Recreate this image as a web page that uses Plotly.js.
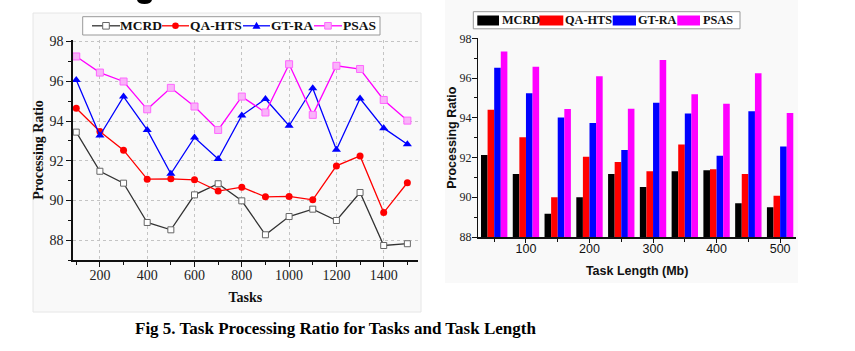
<!DOCTYPE html>
<html>
<head>
<meta charset="utf-8">
<script src="https://cdn.plot.ly/plotly-3.0.1.min.js"></script>
<style>
  html, body { margin: 0; padding: 0; background: #ffffff; }
  #chart { width: 855px; height: 351px; }
</style>
</head>
<body>
<div id="chart"></div>
<script>
// ---------- data ----------
const seriesNames = ["MCRD", "QA-HTS", "GT-RA", "PSAS"];

// Left chart: processing ratio vs number of tasks
const tasks = [100, 200, 300, 400, 500, 600, 700, 800, 900, 1000, 1100, 1200, 1300, 1400, 1500];
const mcrdTasks = [93.44, 91.47, 90.87, 88.89, 88.52, 90.28, 90.84, 89.98, 88.27, 89.19, 89.56, 88.99, 90.40, 87.73, 87.82];
const qaTasks   = [94.64, 93.47, 92.53, 91.07, 91.09, 91.04, 90.47, 90.67, 90.18, 90.20, 90.03, 91.74, 92.24, 89.39, 90.89];
const gtTasks   = [96.07, 93.27, 95.23, 93.55, 91.34, 93.17, 92.09, 94.28, 95.11, 93.76, 95.65, 92.55, 95.13, 93.64, 92.83];
const psasTasks = [97.25, 96.44, 95.99, 94.59, 95.67, 94.73, 93.55, 95.23, 94.43, 96.86, 94.31, 96.78, 96.62, 95.06, 94.02];

// Right chart: processing ratio vs task length (Mb)
const lengths  = [50, 100, 150, 200, 250, 300, 350, 400, 450, 500];
const mcrdLen  = [92.13, 91.17, 89.17, 90.00, 91.17, 90.52, 91.31, 91.36, 89.70, 89.50];
const qaLen    = [94.40, 93.02, 90.00, 92.04, 91.78, 91.31, 92.65, 91.41, 91.17, 90.08];
const gtLen    = [96.52, 95.23, 94.02, 93.74, 92.38, 94.76, 94.21, 92.09, 94.33, 92.55];
const psasLen  = [97.33, 96.57, 94.44, 96.09, 94.46, 96.91, 95.18, 94.71, 96.24, 94.24];

const captionText = "Fig 5. Task Processing Ratio for Tasks and Task Length";

// ---------- helpers (page pixels -> paper fractions) ----------
const W = 855, H = 351;
const px = v => v / W;
const py = v => 1 - v / H;

const SERIF = "Liberation Serif, Times New Roman, serif";
const SANS = "Liberation Sans, Arial, sans-serif";

// ---------- traces ----------
const lineStyles = [
  { color: "#333333", marker: { symbol: "square", size: 6, color: "#ffffff", line: { color: "#666666", width: 1 } } },
  { color: "#ff0000", marker: { symbol: "circle", size: 7, color: "#ff0000", line: { width: 0 } } },
  { color: "#0000ff", marker: { symbol: "triangle-up", size: 8, color: "#0000ff", line: { width: 0 } } },
  { color: "#ff00ff", marker: { symbol: "square", size: 7, color: "#f9b3f9", line: { color: "#ff66ff", width: 1 } } }
];
const taskSeries = [mcrdTasks, qaTasks, gtTasks, psasTasks];
const lenSeries = [mcrdLen, qaLen, gtLen, psasLen];
const barColors = ["#000000", "#ff0000", "#0000ff", "#ff00ff"];

const traces = [];
taskSeries.forEach((ys, i) => {
  traces.push({
    type: "scatter", mode: "lines+markers", name: seriesNames[i],
    x: tasks, y: ys, xaxis: "x", yaxis: "y",
    line: { color: lineStyles[i].color, width: 1.3 },
    marker: lineStyles[i].marker,
    showlegend: false, cliponaxis: false
  });
});
lenSeries.forEach((ys, i) => {
  traces.push({
    type: "bar", name: seriesNames[i],
    x: lengths, y: ys, base: 0, xaxis: "x2", yaxis: "y2",
    marker: { color: barColors[i], line: { width: 0 } },
    showlegend: false
  });
});

// ---------- shapes & annotations ----------
const shapes = [];
const annotations = [];

// figure backgrounds
shapes.push({ type: "rect", xref: "paper", yref: "paper", layer: "below",
  x0: px(33), x1: px(421), y0: py(312), y1: py(13),
  fillcolor: "#f9f9f9", line: { color: "#e6e6e6", width: 1 } });
shapes.push({ type: "rect", xref: "paper", yref: "paper", layer: "below",
  x0: px(445), x1: px(798), y0: py(283), y1: py(0),
  fillcolor: "#f9f9f9", line: { width: 0 } });

// remnant of a cropped heading glyph at the very top edge
shapes.push({ type: "path", xref: "paper", yref: "paper",
  path: `M ${px(137)} ${py(0)} Q ${px(138)} ${py(4)} ${px(144.5)} ${py(4)} Q ${px(151)} ${py(4)} ${px(152)} ${py(0)} Z`,
  fillcolor: "#000000", line: { width: 0 } });

// left legend
const LY = 25.8;
shapes.push({ type: "rect", xref: "paper", yref: "paper",
  x0: px(82.7), x1: px(380), y0: py(35), y1: py(16.7),
  fillcolor: "#ffffff", line: { color: "#999999", width: 1 } });
const leftLeg = [
  { l0: 92, l1: 120, m: 106, t: 120 },
  { l0: 162, l1: 189, m: 175.5, t: 190 },
  { l0: 243, l1: 270, m: 256.5, t: 271 },
  { l0: 314, l1: 342, m: 328, t: 343 }
];
leftLeg.forEach((e, i) => {
  shapes.push({ type: "line", xref: "paper", yref: "paper",
    x0: px(e.l0), x1: px(e.l1), y0: py(LY), y1: py(LY),
    line: { color: lineStyles[i].color, width: 1.3 } });
  const r = 3.3;
  if (i === 0) {
    shapes.push({ type: "rect", xref: "paper", yref: "paper",
      x0: px(e.m - r), x1: px(e.m + r), y0: py(LY + r), y1: py(LY - r),
      fillcolor: "#ffffff", line: { color: "#666666", width: 1 } });
  } else if (i === 1) {
    shapes.push({ type: "circle", xref: "paper", yref: "paper",
      x0: px(e.m - r), x1: px(e.m + r), y0: py(LY + r), y1: py(LY - r),
      fillcolor: "#ff0000", line: { width: 0 } });
  } else if (i === 2) {
    shapes.push({ type: "path", xref: "paper", yref: "paper",
      path: `M ${px(e.m - 4)} ${py(LY + 3)} L ${px(e.m + 4)} ${py(LY + 3)} L ${px(e.m)} ${py(LY - 4)} Z`,
      fillcolor: "#0000ff", line: { width: 0 } });
  } else {
    shapes.push({ type: "rect", xref: "paper", yref: "paper",
      x0: px(e.m - r), x1: px(e.m + r), y0: py(LY + r), y1: py(LY - r),
      fillcolor: "#f9b3f9", line: { color: "#ff66ff", width: 1 } });
  }
  annotations.push({ xref: "paper", yref: "paper", x: px(e.t), y: py(LY),
    xanchor: "left", yanchor: "middle", showarrow: false,
    borderpad: 0, borderwidth: 0,
    text: "<b>" + seriesNames[i] + "</b>",
    font: { family: SERIF, size: 13.5, color: "#111111" } });
});

// right legend
const RY = 20.5;
shapes.push({ type: "rect", xref: "paper", yref: "paper",
  x0: px(473.3), x1: px(740), y0: py(28.8), y1: py(11.7),
  fillcolor: "#ffffff", line: { color: "#999999", width: 1 } });
const rightLeg = [
  { r0: 477.3, r1: 499, t: 501.5 },
  { r0: 539.3, r1: 563.3, t: 565 },
  { r0: 612.7, r1: 636, t: 637.5 },
  { r0: 677.3, r1: 700, t: 703 }
];
rightLeg.forEach((e, i) => {
  shapes.push({ type: "rect", xref: "paper", yref: "paper",
    x0: px(e.r0), x1: px(e.r1), y0: py(RY + 5), y1: py(RY - 5),
    fillcolor: barColors[i], line: { width: 0 } });
  annotations.push({ xref: "paper", yref: "paper", x: px(e.t), y: py(RY),
    xanchor: "left", yanchor: "middle", showarrow: false,
    borderpad: 0, borderwidth: 0,
    text: "<b>" + seriesNames[i] + "</b>",
    font: { family: SERIF, size: 12.3, color: "#111111" } });
});

// caption
annotations.push({ xref: "paper", yref: "paper", x: px(335), y: py(328),
  xanchor: "center", yanchor: "middle", showarrow: false,
  borderpad: 0, borderwidth: 0,
  text: "<b>" + captionText + "</b>",
  font: { family: SERIF, size: 17, color: "#000000" } });

// ---------- layout ----------
const layout = {
  width: W, height: H,
  margin: { l: 0, r: 0, t: 0, b: 0, pad: 0 },
  paper_bgcolor: "#ffffff",
  plot_bgcolor: "rgba(0,0,0,0)",
  showlegend: false,
  barmode: "group",
  bargap: 0.17,
  bargroupgap: 0,
  xaxis: {
    domain: [px(72.7), px(418)],
    range: [85, 1545],
    tick0: 0, dtick: 200,
    ticks: "outside", ticklen: 5, tickwidth: 1, tickcolor: "#111",
    minor: { dtick: 100, ticks: "outside", ticklen: 3, tickcolor: "#111", showgrid: false },
    showline: true, linecolor: "#111", linewidth: 1.5,
    showgrid: true, gridcolor: "#c4c4c4", griddash: "dot", gridwidth: 1,
    zeroline: false,
    ticklabelstandoff: -3,
    tickfont: { family: SERIF, size: 14, color: "#222" },
    title: { text: "<b>Tasks</b>", standoff: 10, font: { family: SERIF, size: 14, color: "#111" } },
    anchor: "y"
  },
  yaxis: {
    domain: [py(260), py(40)],
    range: [87, 98.08],
    tick0: 0, dtick: 2,
    ticks: "outside", ticklen: 5, tickwidth: 1, tickcolor: "#111",
    minor: { dtick: 1, ticks: "outside", ticklen: 3, tickcolor: "#111", showgrid: false },
    showline: true, linecolor: "#111", linewidth: 1.5,
    showgrid: true, gridcolor: "#c4c4c4", griddash: "dot", gridwidth: 1,
    zeroline: false,
    tickfont: { family: SERIF, size: 14, color: "#222" },
    title: { text: "<b>Processing Ratio</b>", standoff: 2, font: { family: SERIF, size: 14, color: "#111" } },
    anchor: "x"
  },
  xaxis2: {
    domain: [px(478.3), px(796)],
    range: [25, 525],
    tick0: 0, dtick: 100,
    ticks: "outside", ticklen: 4, tickwidth: 1, tickcolor: "#111",
    minor: { dtick: 50, ticks: "outside", ticklen: 3, tickcolor: "#111", showgrid: false },
    showline: true, linecolor: "#111", linewidth: 1.5,
    showgrid: false, zeroline: false,
    ticklabelstandoff: -5,
    tickfont: { family: SANS, size: 12.5, color: "#111" },
    title: { text: "<b>Task Length (Mb)</b>", standoff: 11, font: { family: SANS, size: 12.5, color: "#111" } },
    anchor: "y2"
  },
  yaxis2: {
    domain: [py(237), py(38.3)],
    range: [88, 98],
    tick0: 0, dtick: 2,
    ticks: "outside", ticklen: 5, tickwidth: 1, tickcolor: "#111",
    minor: { dtick: 1, ticks: "outside", ticklen: 3, tickcolor: "#111", showgrid: false },
    showline: true, linecolor: "#111", linewidth: 1.5,
    showgrid: false, zeroline: false,
    ticklabelstandoff: -2,
    tickfont: { family: SERIF, size: 12, color: "#222" },
    title: { text: "<b>Processing Ratio</b>", standoff: 0, font: { family: SANS, size: 12.5, color: "#111" } },
    anchor: "x2"
  },
  shapes: shapes,
  annotations: annotations
};

Plotly.newPlot("chart", traces, layout, { staticPlot: true, displayModeBar: false });
</script>
</body>
</html>
